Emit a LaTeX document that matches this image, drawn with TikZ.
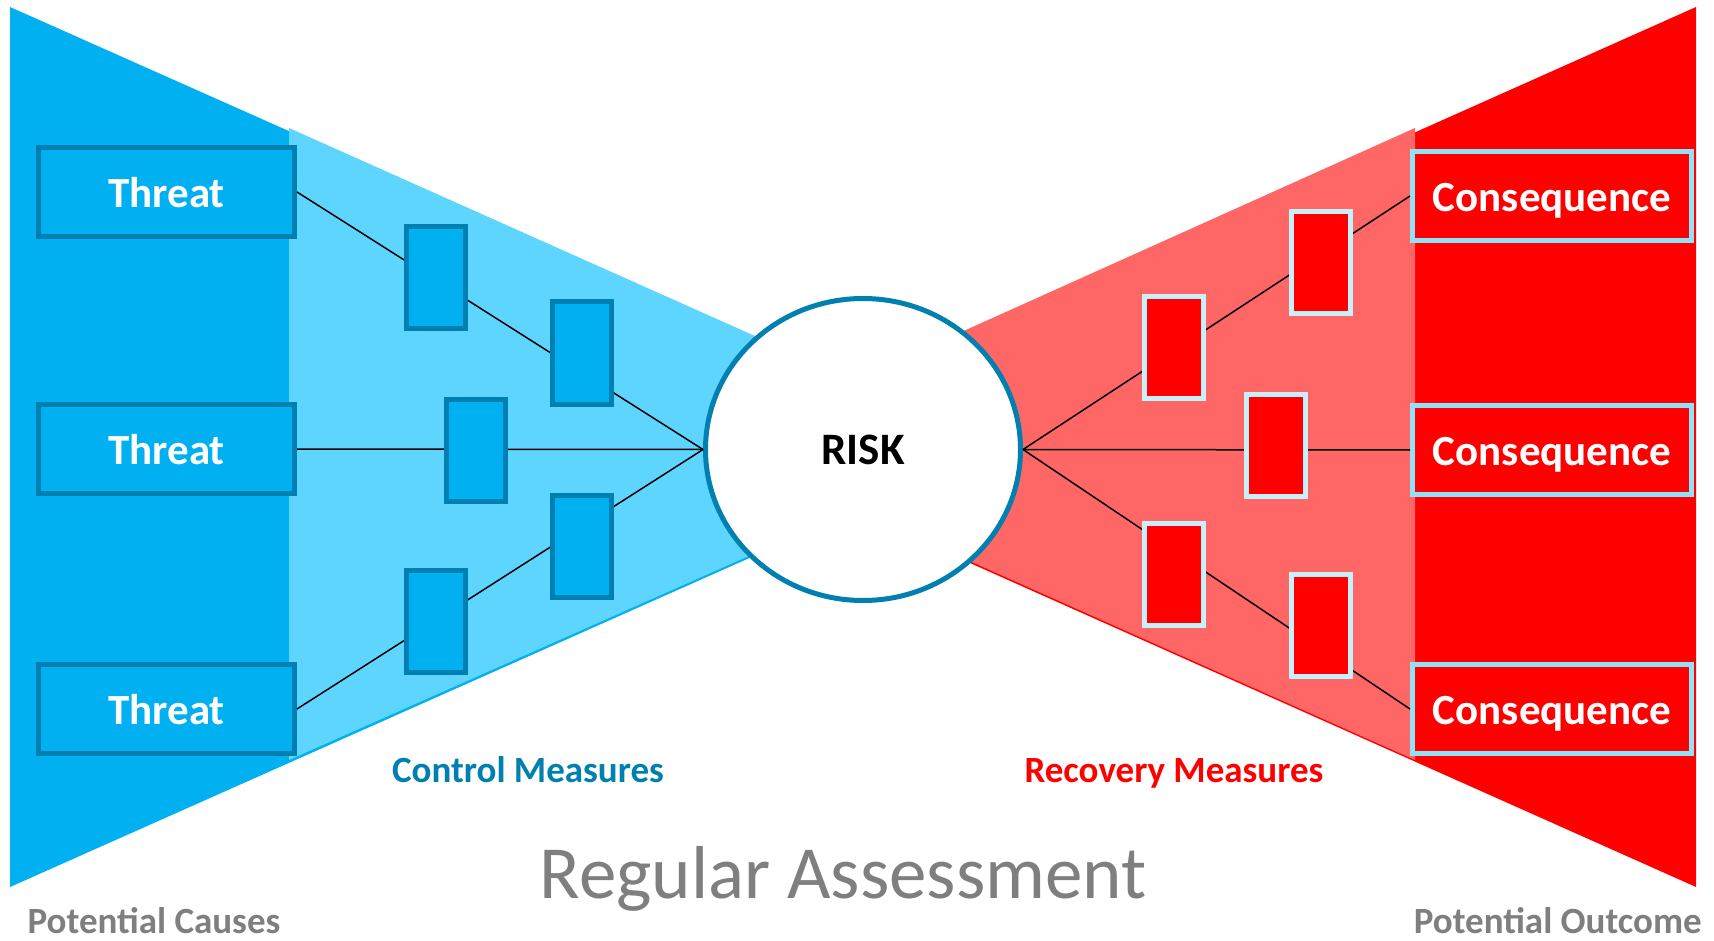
\documentclass[tikz,border=0pt]{standalone}
\usepackage{fontspec}
\setmainfont{Carlito}
\usepackage{xcolor}
\usepackage{tikz}
\usetikzlibrary{shapes.geometric}
\definecolor{cause}{HTML}{00B0F0}
\definecolor{causelt}{HTML}{5DD5FF}
\definecolor{rim}{HTML}{0080B0}
\definecolor{outcome}{HTML}{FF0000}
\definecolor{outcomelt}{HTML}{FF6666}
\definecolor{frame}{HTML}{90E2F8}
\definecolor{framelt}{HTML}{C8F0FA}
\definecolor{note}{HTML}{7F7F7F}

\begin{document}
\begin{tikzpicture}[x=1pt, y=-1pt,
  threat/.style={draw=rim, fill=cause, line width=5pt, minimum width=256pt, minimum height=89pt, inner sep=0pt, text=white, font=\fontsize{43}{50}\selectfont\bfseries, text height=31pt, text depth=0pt},
  conseq/.style={threat, draw=frame, fill=outcome, minimum width=279pt},
  ctrl/.style={draw=rim, fill=cause, line width=5pt, minimum width=59pt, minimum height=102pt, inner sep=0pt},
  recov/.style={ctrl, draw=framelt, fill=outcome},
  link/.style={line width=1.5pt},
  foot/.style={font=\fontsize{37}{44}\selectfont\bfseries, anchor=base}]
\fill[white] (0,0) rectangle (1714,941);
% the two wedges
\fill[cause] (10,7) -- (999,447) -- (10,887) -- cycle;
\fill[causelt] (289,128) -- (999,445) -- (289,760) -- cycle;
\fill[outcome] (1696,7) -- (710,447) -- (1696,887) -- cycle;
\fill[outcomelt] (1415,128) -- (710,445) -- (1415,760) -- cycle;
% causes, outcomes and the risk in the middle
\node[threat] (t1) at (166.5,192) {Threat};
\node[threat] (t2) at (166.5,449) {Threat};
\node[threat] (t3) at (166.5,709) {Threat};
\node[conseq] (c1) at (1552,196) {Consequence};
\node[conseq] (c2) at (1552,450) {Consequence};
\node[conseq] (c3) at (1552,709) {Consequence};
\node[ellipse, draw=rim, fill=white, line width=5pt, minimum width=315pt, minimum height=302pt, inner sep=0pt, font=\fontsize{45}{52}\selectfont\bfseries, text height=30pt, text depth=0pt] (risk) at (863,449.5) {RISK};
\foreach \t in {t1,t2,t3} \draw[link] (\t.east) -- (risk.west);
\foreach \c in {c1,c2,c3} \draw[link] (risk.east) -- (\c.west);
% barriers on the paths
\node[ctrl] (b1) at (436,277.5) {};
\node[ctrl] (b2) at (582,353) {};
\node[ctrl] (b3) at (476,450) {};
\node[ctrl] (b4) at (582,546) {};
\node[ctrl] (b5) at (436,621.5) {};
\node[recov] (r1) at (1174,347.5) {};
\node[recov] (r2) at (1320.5,262.5) {};
\node[recov] (r3) at (1275.5,445) {};
\node[recov] (r4) at (1174,574) {};
\node[recov] (r5) at (1320.5,625) {};
% labels
\node[foot, text=rim] (ctrlname) at (528,782) {Control Measures};
\node[foot, text=outcome] (recovname) at (1174,782) {Recovery Measures};
\node[font=\fontsize{75}{90}\selectfont, text=note, anchor=base] (assess) at (843,898) {Regular Assessment};
\node[foot, text=note] (causes) at (154,933) {Potential Causes};
\node[foot, text=note, anchor=base east, inner sep=0pt] (outcomes) at (1702,933) {Potential Outcome};
\end{tikzpicture}
\end{document}
